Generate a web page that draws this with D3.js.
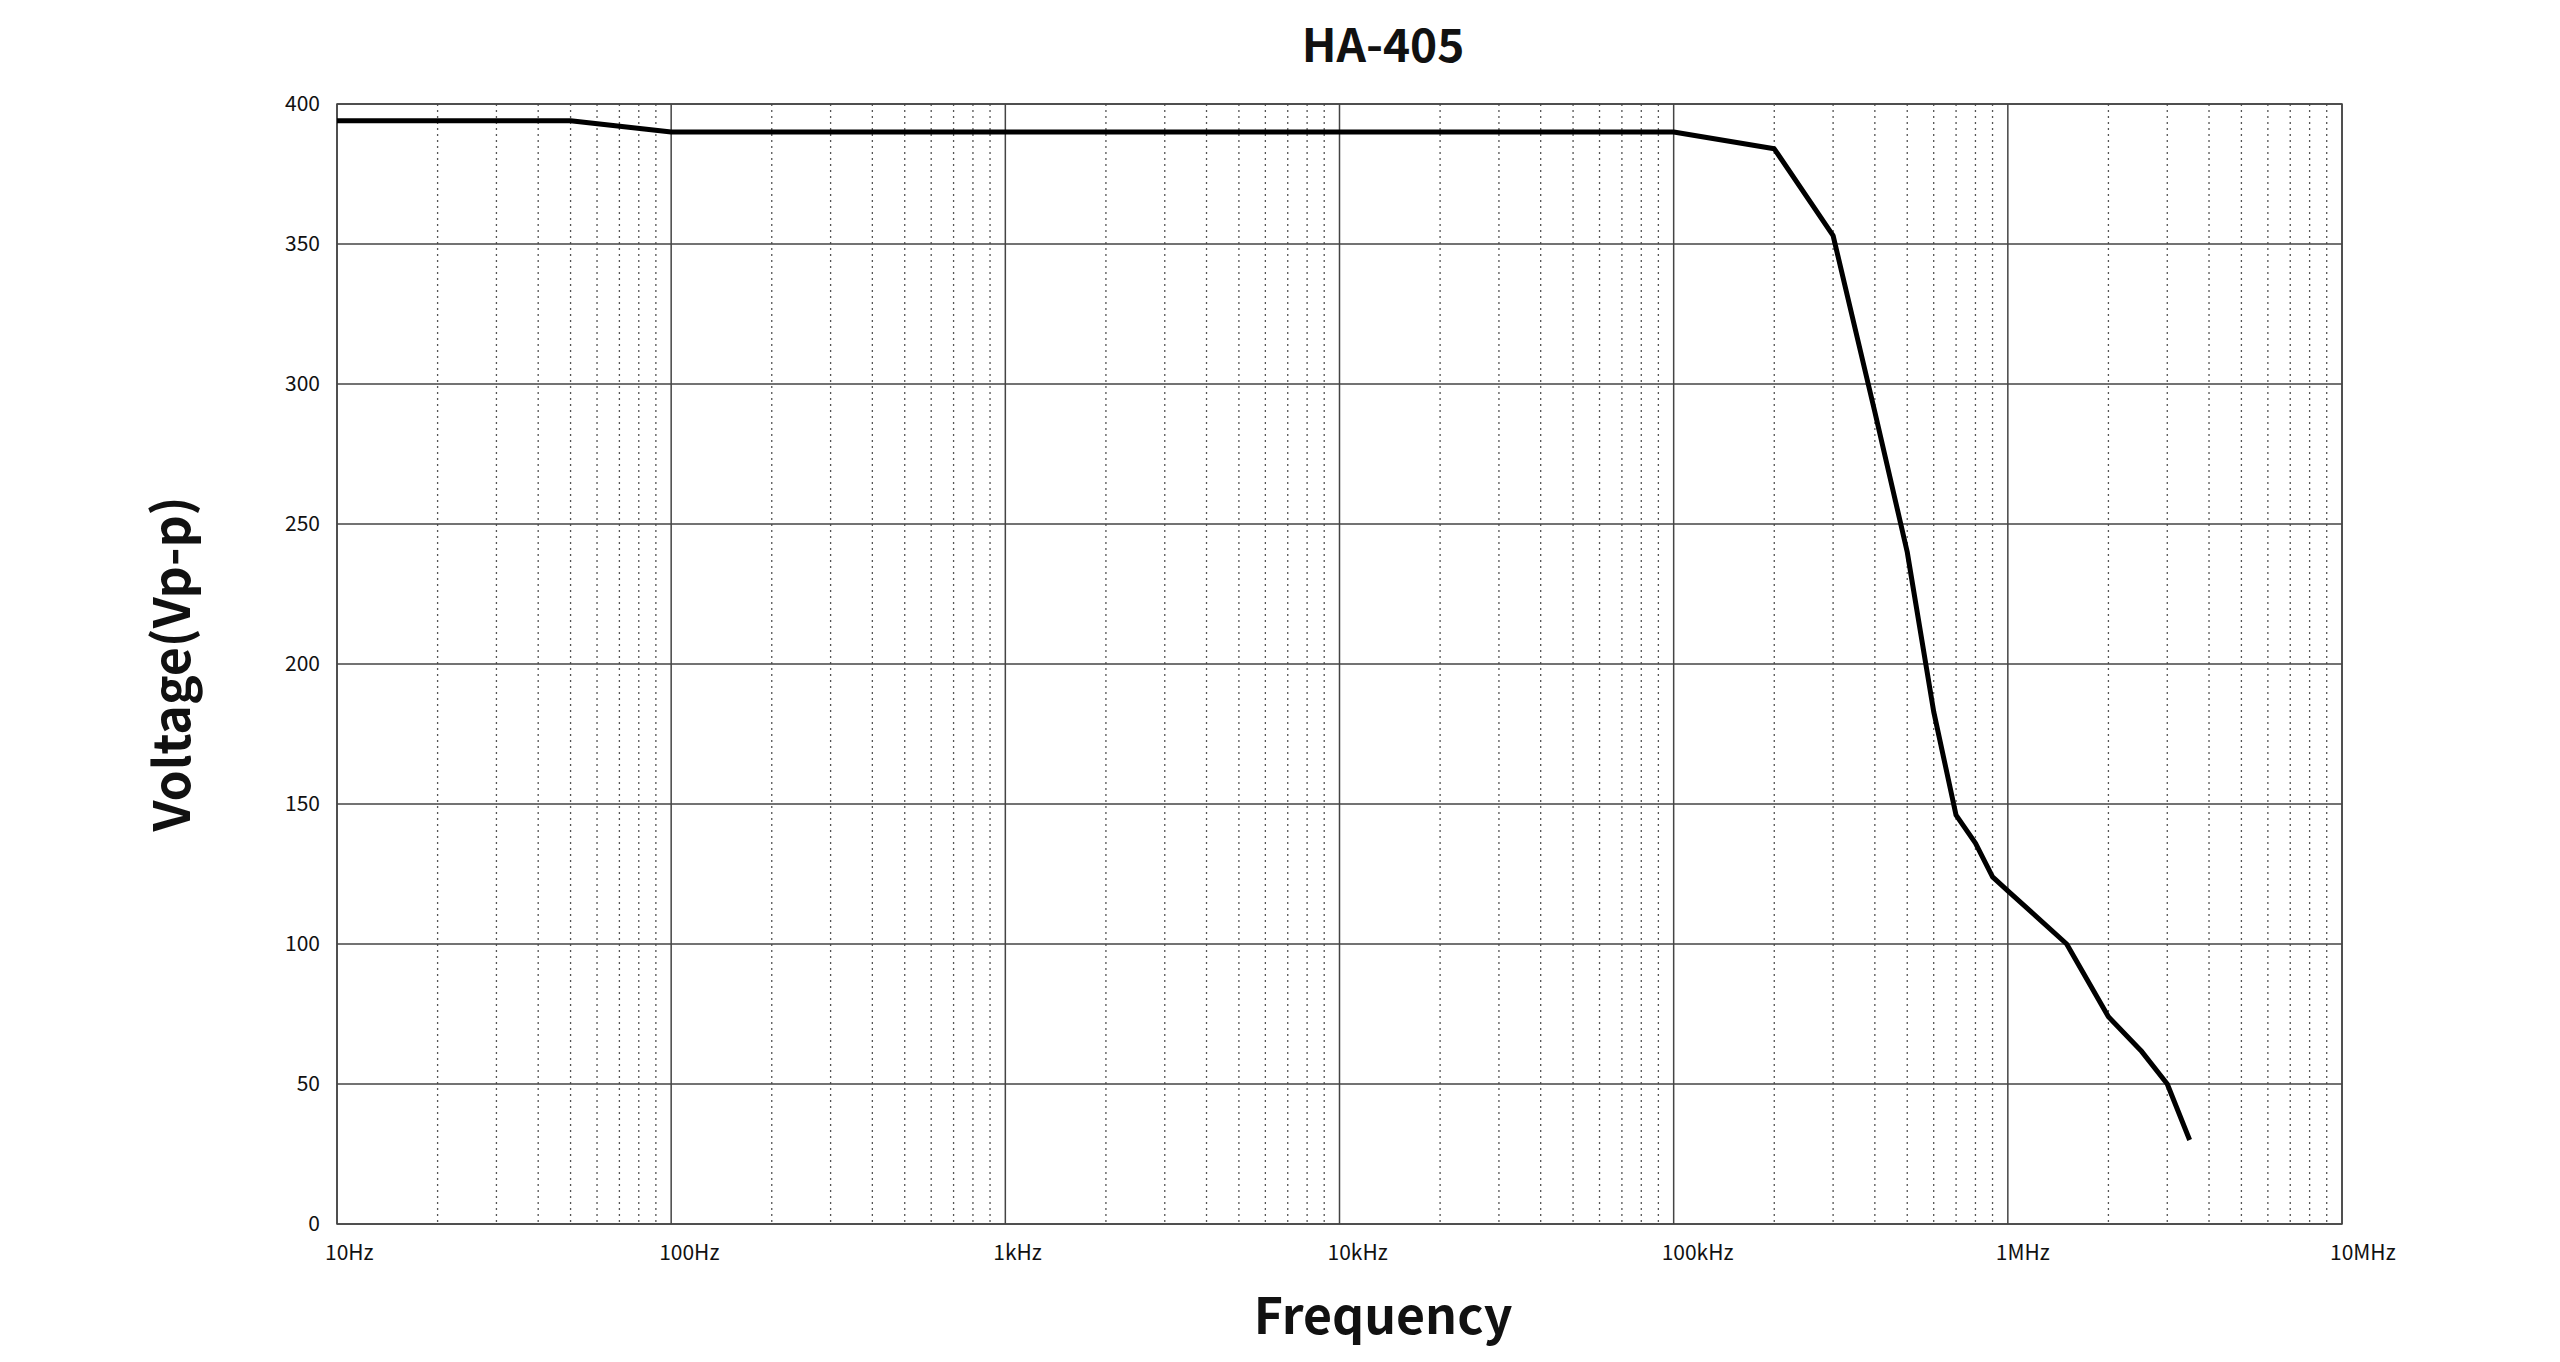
<!DOCTYPE html>
<html>
<head>
<meta charset="utf-8">
<script src="https://cdn.jsdelivr.net/npm/d3@7"></script>
<style>
  body { margin: 0; background: #fff; }
  text { font-family: "Noto Sans CJK KR", "Noto Sans", sans-serif; fill: #111; }
</style>
</head>
<body>
<svg id="chart" width="2560" height="1362"></svg>
<script>
// data
const freqs =   [10, 50, 100, 1e5, 2e5, 3e5, 4e5, 5e5, 6e5, 7e5, 8e5, 9e5, 1e6, 1.5e6, 2e6, 2.5e6, 3e6, 3.5e6];
const voltage = [394, 394, 390, 390, 384, 353, 290, 240, 183, 146, 136, 124, 119, 100, 74, 62, 50, 30];
const majorTicks = [10, 100, 1e3, 1e4, 1e5, 1e6, 1e7];
const majorLabels = ["10Hz", "100Hz", "1kHz", "10kHz", "100kHz", "1MHz", "10MHz"];
const yTicks = [0, 50, 100, 150, 200, 250, 300, 350, 400];

const margin = {left: 337, right: 218, top: 104, bottom: 138};
const width = 2560 - margin.left - margin.right;
const height = 1362 - margin.top - margin.bottom;

const svg = d3.select("#chart");
const g = svg.append("g").attr("transform", `translate(${margin.left},${margin.top})`);

const x = d3.scaleLog().domain([10, 1e7]).range([0, width]);
const y = d3.scaleLinear().domain([0, 400]).range([height, 0]);

// minor grid
const minors = [];
majorTicks.slice(0, -1).forEach(function (d) {
    for (let k = 2; k <= 9; k++) minors.push(d * k);
});
g.selectAll(".minor").data(minors).enter().append("line")
    .attr("x1", d => x(d)).attr("x2", d => x(d))
    .attr("y1", 0).attr("y2", height)
    .attr("stroke", "#555").attr("stroke-width", 1.3)
    .attr("stroke-dasharray", "2,4");

// major grid
g.selectAll(".major").data(majorTicks).enter().append("line")
    .attr("x1", d => x(d)).attr("x2", d => x(d))
    .attr("y1", 0).attr("y2", height)
    .attr("stroke", "#444").attr("stroke-width", 1.5);
g.selectAll(".hgrid").data(yTicks).enter().append("line")
    .attr("x1", 0).attr("x2", width)
    .attr("y1", d => y(d)).attr("y2", d => y(d))
    .attr("stroke", "#444").attr("stroke-width", 1.5);

g.append("rect").attr("width", width).attr("height", height)
    .attr("fill", "none").attr("stroke", "#444").attr("stroke-width", 1.5);

// tick labels
g.selectAll(".xl").data(majorTicks).enter().append("text")
    .attr("x", d => x(d) - 12).attr("y", height + 36)
    .style("font-size", "21px")
    .text((d, i) => majorLabels[i]);
g.selectAll(".yl").data(yTicks).enter().append("text")
    .attr("x", -17).attr("y", d => y(d) + 7)
    .style("text-anchor", "end").style("font-size", "21px")
    .text(d => d);

// series
const pts = freqs.map((f, i) => [f, voltage[i]]);
g.append("path").datum(pts)
    .attr("fill", "none").attr("stroke", "#000").attr("stroke-width", 5)
    .attr("stroke-linejoin", "round")
    .attr("d", d3.line().x(d => x(d[0])).y(d => y(d[1])));

// titles
svg.append("text").attr("x", 1383).attr("y", 62)
    .style("text-anchor", "middle").style("font-weight", "bold").style("font-size", "46px")
    .text("HA-405");
svg.append("text").attr("x", 1383).attr("y", 1334)
    .style("text-anchor", "middle").style("font-weight", "bold").style("font-size", "50px")
    .text("Frequency");
svg.append("text")
    .attr("transform", `translate(190, ${margin.top + height / 2}) rotate(-90)`)
    .style("text-anchor", "middle").style("font-weight", "bold").style("font-size", "50px")
    .text("Voltage(Vp-p)");
</script>
</body>
</html>
